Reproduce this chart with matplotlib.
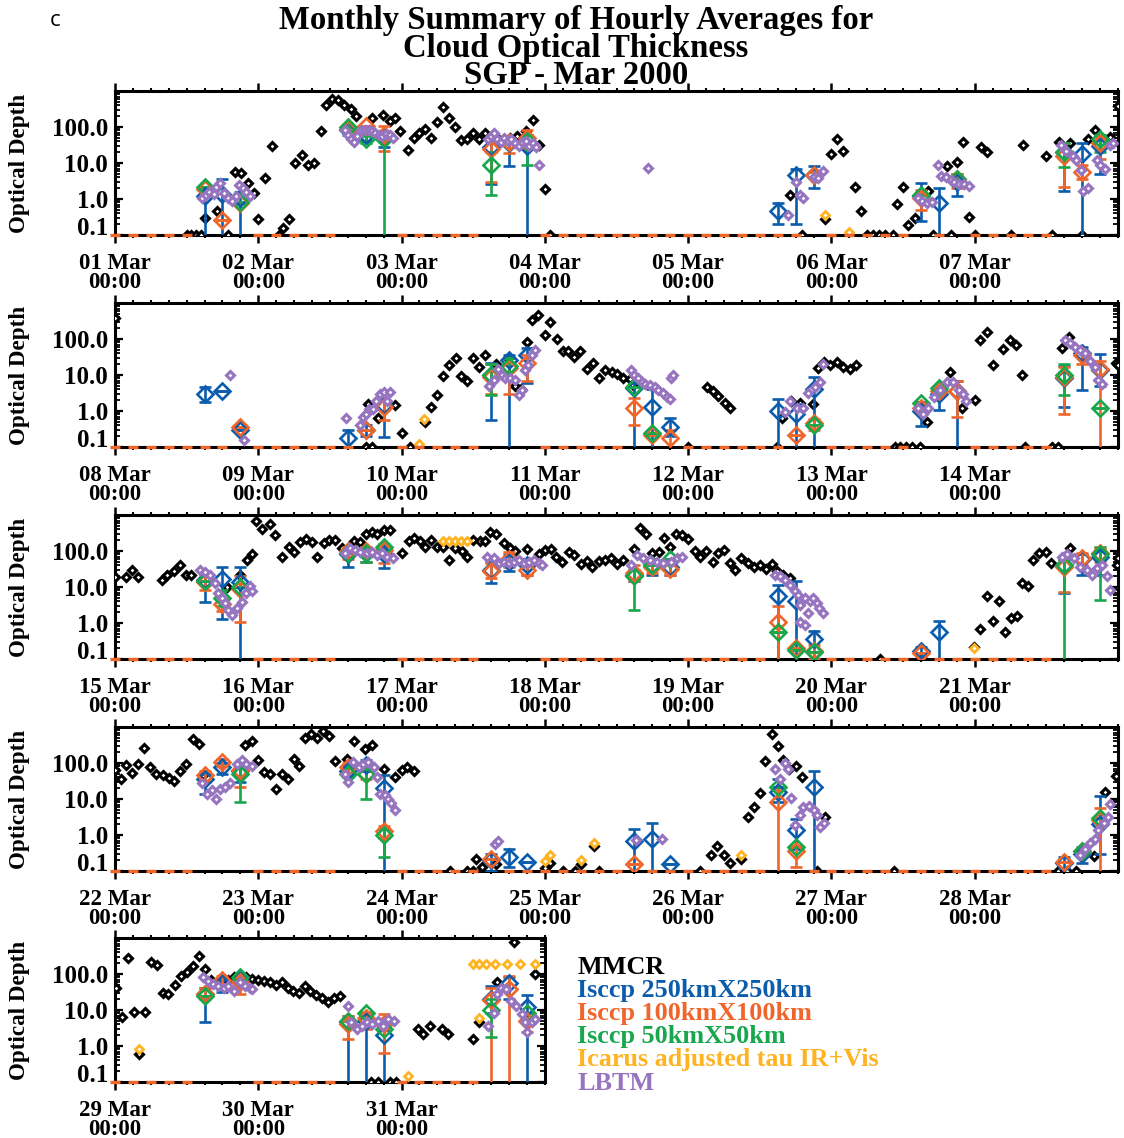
import numpy as np
import matplotlib
matplotlib.use("Agg")
import matplotlib.pyplot as plt
from matplotlib.ticker import FixedLocator, MultipleLocator, LogLocator, NullFormatter

plt.rcParams['font.family'] = ['Liberation Serif', 'DejaVu Serif']
plt.rcParams['font.weight'] = 'bold'

BLUE = '#0b5cad'
ORANGE = '#f0652a'
GREEN = '#17a74c'
YELLOW = '#ffb320'
PURPLE = '#9674bf'

# hours since 2000-03-01 00:00, optical depth (0.1 = at the floor)
mmcr = [
    (12.0, 0.1), (12.8, 0.1), (13.6, 0.1), (14.4, 0.1), (15.1, 0.3), (17.1, 0.47), (19.0, 0.1), (20.1, 5.6),
    (21.1, 5.4), (22.3, 2.8), (23.3, 1.5), (24.0, 0.27), (25.1, 3.9), (26.3, 29), (27.4, 0.1), (28.2, 0.16),
    (29.2, 0.27), (30.2, 10), (31.4, 17), (32.4, 9), (33.3, 10), (34.5, 75), (35.3, 400), (36.3, 600),
    (37.3, 550), (38.4, 400), (39.5, 320), (40.4, 200), (43, 178), (44.9, 220), (46.1, 147), (46.9, 180),
    (47.7, 77), (49.1, 23), (50, 48), (51, 68), (51.9, 90), (53, 48), (53.9, 140), (55, 370), (56, 175),
    (56.9, 98), (57.9, 44), (58.9, 47), (59.9, 70), (61, 46), (61.9, 68), (64, 50), (66.2, 50), (67.3, 55),
    (68.9, 77), (70, 156), (71, 31), (72, 1.9), (72.8, 0.1), (113, 1.3), (115, 0.1), (118.9, 0.28), (120, 18),
    (121, 47), (122, 22), (123, 0.1), (123.9, 2.2), (125, 0.45), (126, 0.1), (127, 0.1), (128, 0.1), (129, 0.1),
    (130.3, 0.1), (131, 0.72), (132, 2.2), (132.8, 0.19), (134, 0.3), (136.2, 1.7), (137, 0.1), (139.3, 8),
    (140, 0.1), (141, 11), (142, 38), (143, 0.32), (144, 0.1), (145, 28), (146, 20), (150, 0.1), (152.1, 31),
    (156, 16), (157, 0.1), (158.2, 38), (160, 36), (162, 0.1), (163, 45), (164.1, 81), (166.6, 52), (168, 380),
    (210, 0.1), (210.4, 1.6), (211, 0.1), (212.1, 0.63), (214.9, 1.5), (216, 0.25), (217.4, 0.1), (219, 0.1),
    (219.9, 0.5), (220.9, 1.26), (222, 2.8), (223, 9.3), (224, 19), (225.1, 29), (225.9, 9.3), (226.9, 7),
    (227.9, 29), (228.9, 17), (230, 36), (231.9, 20), (233.9, 29), (235, 4.9), (236, 4), (237, 85), (237.8, 340),
    (238.9, 465), (240, 130), (240.9, 300), (242, 98), (243, 45), (243.9, 45), (244.8, 32), (245.9, 45),
    (247, 14.5), (248, 21), (249, 8), (250, 14), (251.2, 12), (252, 10.5), (253.1, 8.5), (254.2, 7.5),
    (254.8, 5.2), (264, 0.1), (267.1, 4.6), (268.2, 3.5), (269, 2.6), (270.1, 1.7), (271, 1.2), (278.8, 0.1),
    (279.8, 0.63), (281.3, 1.9), (282.7, 1.7), (284.9, 1.6), (285.8, 15.5), (286.7, 23), (287.7, 19),
    (288.9, 23), (290, 17), (291.1, 15), (292.1, 19), (298.6, 0.1), (299.5, 0.1), (300.5, 0.1), (301.5, 0.1),
    (302.8, 0.1), (304, 0.5), (307.9, 12.3), (309.8, 1.2), (312, 2), (312.9, 93), (314, 160), (315, 19),
    (316.8, 52), (317.9, 91), (318.9, 70), (320, 10), (320.5, 0.1), (325, 0.1), (326, 0.1), (326.6, 56),
    (327.8, 115), (335.7, 22),
    (336, 19.5), (337.8, 19.5), (338.8, 30), (339.9, 19.5), (343.8, 16), (344.7, 22), (345.8, 27), (346.9, 41),
    (347.9, 22), (348.8, 22), (354.7, 10), (356.9, 22), (358.1, 56), (358.9, 81), (359.7, 670), (360.7, 420),
    (361.9, 550), (362.8, 280), (363.9, 66), (365.1, 130), (365.9, 91), (367, 180), (368, 210), (369, 174),
    (369.9, 66), (371, 163), (371.9, 200), (372.9, 200), (374, 118), (376, 190), (377, 180), (378, 305),
    (379, 340), (379.9, 305), (381, 380), (382.1, 380), (384, 86), (385.2, 190), (386, 225), (387.1, 190),
    (388, 130), (388.9, 200), (389.9, 130), (391, 130), (392, 56), (393, 118), (394.1, 100), (395, 66),
    (396, 200), (397.1, 190), (398, 190), (398.8, 330), (399.8, 305), (401.1, 163), (402.2, 118), (403, 100),
    (405, 113), (407.1, 81), (408.1, 106), (409, 113), (409.9, 70), (410.9, 50), (412, 96), (412.8, 78),
    (414, 43), (415, 53), (415.9, 37), (417, 53), (418.1, 56), (419, 63), (420.1, 43), (421.1, 56), (422.9, 114),
    (423.9, 440), (424.9, 305), (426, 86), (427.1, 92), (427.9, 233), (428.9, 131), (429.9, 290), (431, 280),
    (432, 215), (433.1, 100), (434, 70), (435, 100), (436.1, 51), (437, 86), (438, 106), (439, 46), (439.8, 30),
    (440.9, 65), (442.1, 46), (443, 37), (444, 41), (445.1, 32), (446, 43), (446.9, 28), (447.9, 22),
    (449, 17.5), (464.1, 0.1), (479.8, 0.21), (480.9, 0.66), (482, 5.8), (483, 1.15), (484, 4.2), (485.1, 0.55),
    (486, 1.38), (487.1, 1.6), (487.9, 13), (489, 11), (489.8, 56), (490.8, 86), (491.9, 91), (492.8, 46),
    (496, 118), (503.8, 41),
    (504, 63), (505, 35), (505.9, 86), (506.9, 53), (507.9, 92), (508.9, 265), (509.9, 78), (510.9, 49),
    (512, 46), (513, 39), (513.9, 32), (514.9, 60), (515.9, 96), (517, 470), (518, 330), (518.8, 46),
    (525.8, 310), (526.9, 400), (528, 118), (529, 56), (530, 51), (531, 19.5), (531.9, 51), (533, 35),
    (533.9, 132), (534.9, 81), (535.8, 500), (536.9, 650), (537.9, 500), (538.9, 760), (539.9, 550),
    (540.9, 114), (542.8, 132), (544, 420), (545.9, 250), (547, 310), (549, 70), (550.9, 41), (552, 63),
    (552.9, 78), (554, 60), (560.1, 0.1), (563, 0.1), (564, 0.1), (564.4, 0.21), (565.5, 0.13), (567.8, 0.16),
    (576.1, 0.12), (576.9, 0.17), (579, 0.1), (581, 0.1), (582, 0.16), (584.2, 0.5), (585, 0.1), (602, 0.1),
    (603.9, 0.28), (604.9, 0.48), (606, 0.28), (607, 0.17), (608.9, 0.22), (610.1, 3.1), (611, 6), (612, 15),
    (612.8, 114), (614, 620), (615.1, 290), (615.9, 118), (616.9, 70), (618, 81), (619, 41), (621.5, 0.1),
    (622.9, 3.1), (634.4, 0.1), (662, 0.1), (663.5, 0.1), (665, 0.1), (667.9, 0.26), (669.8, 16), (671.7, 43),
    (672.1, 42), (673.1, 6.2), (674.1, 275), (675.1, 9), (676.1, 0.59), (677, 9), (678, 220), (679, 180),
    (680.1, 30), (680.9, 28), (682, 49), (683, 90), (684, 112), (685, 170), (686, 325), (687, 138), (688, 70),
    (689, 55), (690, 60), (691, 70), (692, 80), (693.1, 76), (694, 81), (695, 72), (696, 69), (696.9, 65),
    (697.9, 59), (698.9, 49), (699.9, 59), (700.9, 42), (701.8, 34), (702.8, 30), (703.8, 45), (704.7, 34),
    (705.7, 26), (706.7, 21), (707.7, 17), (708.7, 21), (709.7, 24), (714.8, 0.1), (716, 0.1), (718, 0.1),
    (719, 0.1), (722.8, 3), (723.6, 2.1), (724.8, 3.5), (726.8, 3), (727.8, 2.1), (731.9, 1.6), (732.9, 4.5),
    (736, 59), (738.9, 760), (742.4, 100),
]

icarus = [
    (118.9, 0.35), (123, 0.12), (219, 0.12), (219.7, 0.6), (391, 190), (392, 190), (393, 190), (394, 190),
    (395, 190), (479.8, 0.2), (576.1, 0.19), (576.9, 0.28), (582, 0.2), (584.2, 0.6), (608.9, 0.28),
    (676.1, 0.8), (721, 0.15), (731.9, 190), (732.9, 6), (733, 190), (734.2, 190), (735.7, 190), (737.7, 190),
    (739.8, 190), (742.4, 190),
]

# hour, tau, lower, upper (0.05 = bar runs off the bottom)
isccp250 = [
    (15, 1.2, 0.05, 1.6), (18, 1.4, 0.05, 3.5), (21, 1.1, 0.05, 1.6), (39, 80, 60, 110), (42, 60, 40, 80),
    (45, 50, 28, 70), (63, 28, 2.6, 45), (66, 35, 8, 50), (69, 30, 0.05, 60), (111, 0.45, 0.2, 0.76),
    (114, 4.5, 0.2, 7), (117, 4.5, 2, 8), (135, 1.2, 0.25, 2.8), (138, 0.75, 0.05, 2), (141, 3, 1.2, 5),
    (159, 20, 1.7, 35), (162, 18, 0.05, 36), (165, 30, 5, 60),
    (183, 3, 1.8, 4.5), (186, 3.5, 3.5, 3.5), (189, 0.3, 0.3, 0.3), (207, 0.18, 0.05, 0.3), (210, 0.3, 0.2, 0.4),
    (213, 1.5, 0.19, 2), (231, 10, 0.55, 22), (234, 26, 0.05, 36), (237, 36, 6, 55), (255, 4.3, 0.05, 6),
    (258, 1.3, 0.05, 4), (261, 0.37, 0.2, 0.62), (279, 1.0, 0.05, 2.2), (282, 0.8, 0.05, 1.6),
    (285, 4, 0.05, 9), (303, 1.0, 0.38, 1.8), (306, 2.9, 1.1, 4.5), (309, 3.5, 0.05, 7), (327, 8, 1.26, 18),
    (330, 40, 3.8, 60), (333, 14, 5, 38),
    (351, 16, 3.8, 25), (354, 17, 1.3, 37), (357, 14, 0.05, 35), (375, 80, 37, 100), (378, 90, 50, 120),
    (381, 80, 33, 110), (399, 30, 13, 50), (402, 50, 27, 80), (405, 40, 22, 60), (423, 22, 15, 30),
    (426, 40, 21, 60), (429, 35, 21, 60), (447, 5.5, 0.05, 11.5), (450, 4, 0.05, 15), (453, 0.35, 0.05, 0.6),
    (471, 0.17, 0.12, 0.22), (474, 0.57, 0.05, 1.15), (495, 40, 7, 60), (498, 60, 22, 80), (501, 70, 21, 110),
    (519, 37, 14, 50), (522, 78, 50, 100), (525, 60, 30, 100), (543, 60, 40, 90), (546, 90, 60, 120),
    (549, 20, 0.05, 46), (567, 0.2, 0.1, 0.3), (570, 0.25, 0.13, 0.4), (573, 0.18, 0.18, 0.18),
    (591, 0.7, 0.05, 1.45), (594, 0.75, 0.05, 2.1), (597, 0.16, 0.16, 0.16), (615, 16, 8, 35),
    (618, 1.4, 0.4, 2.7), (621, 22, 0.05, 60), (663, 0.17, 0.12, 0.24), (666, 0.3, 0.17, 0.45),
    (669, 2, 0.3, 12),
    (687, 28, 4.7, 40), (690, 55, 32, 70), (693, 70, 40, 90), (711, 4.5, 0.05, 7), (714, 5, 0.05, 8),
    (717, 2, 0.05, 4), (735, 20, 8, 47), (738, 55, 20, 80), (741, 12, 0.05, 26),
]

isccp100 = [
    (15, 1.9, 1.9, 1.9), (18, 0.26, 0.26, 0.26), (21, 0.75, 0.75, 0.75), (39, 90, 90, 90), (42, 110, 110, 110),
    (45, 60, 21, 110), (63, 25, 3, 45), (66, 38, 19, 50), (69, 50, 25, 80), (117, 4.5, 4, 5.5),
    (135, 1.1, 0.5, 1.8), (141, 3.5, 2, 5), (159, 16, 2.2, 35), (162, 5.6, 3.5, 9), (165, 35, 13, 55),
    (189, 0.35, 0.35, 0.35), (210, 0.3, 0.3, 0.3), (213, 1.3, 0.55, 2), (231, 9, 3, 20), (234, 16, 3, 30),
    (237, 22, 7, 35), (255, 1.2, 0.4, 2.3), (258, 0.22, 0.22, 0.22), (261, 0.18, 0.05, 0.3),
    (282, 0.22, 0.22, 0.22), (285, 0.45, 0.3, 0.6), (303, 1.2, 1.2, 1.2), (306, 3.6, 3.6, 3.6),
    (309, 3.5, 0.7, 7), (327, 9, 0.83, 17), (330, 35, 20, 50), (333, 15, 0.05, 25),
    (351, 14, 8, 22), (354, 3.4, 2.2, 5), (357, 9, 1.1, 20), (375, 100, 60, 130), (378, 100, 50, 130),
    (381, 110, 45, 140), (399, 28, 18, 45), (402, 60, 35, 92), (405, 30, 22, 45), (423, 24, 15, 40),
    (426, 37, 25, 55), (429, 32, 22, 50), (447, 1.1, 0.05, 2.9), (450, 0.2, 0.2, 0.2), (453, 0.17, 0.1, 0.25),
    (471, 0.15, 0.15, 0.15), (495, 37, 7.3, 60), (498, 65, 40, 90), (501, 86, 50, 118),
    (519, 46, 30, 60), (522, 110, 80, 130), (525, 65, 22, 100), (543, 78, 50, 100), (546, 50, 35, 80),
    (549, 1.3, 0.8, 1.8), (567, 0.22, 0.22, 0.22), (591, 0.16, 0.16, 0.16), (615, 8.3, 0.05, 18),
    (618, 0.35, 0.13, 0.5), (663, 0.18, 0.18, 0.18), (666, 0.35, 0.35, 0.35), (669, 2.6, 0.05, 5.5),
    (687, 28, 20, 40), (690, 70, 45, 90), (693, 60, 28, 80), (711, 4, 1.6, 7), (714, 6, 3, 9),
    (717, 4, 0.63, 7.6), (735, 19, 0.05, 42), (738, 38, 0.05, 90), (741, 5, 2.4, 8),
]

isccp50 = [
    (15, 2.1, 2.1, 2.1), (21, 0.8, 0.8, 0.8), (39, 100, 100, 100), (42, 45, 35, 55), (45, 45, 0.05, 70),
    (63, 9, 1.3, 20), (69, 40, 9, 60), (135, 1.3, 1.3, 1.3), (141, 3.5, 3.5, 3.5), (159, 20, 7.6, 35),
    (165, 45, 20, 60),
    (231, 10, 2.8, 20), (234, 18, 8, 30), (255, 4.5, 4.5, 4.5), (258, 0.25, 0.25, 0.25), (285, 0.4, 0.4, 0.4),
    (303, 1.7, 1.7, 1.7), (306, 4.3, 4.3, 4.3), (327, 10, 2.8, 20), (333, 1.2, 1.2, 1.2),
    (351, 15, 15, 15), (354, 5, 3, 8), (357, 10, 10, 10), (375, 90, 90, 90), (378, 90, 48, 120),
    (381, 130, 70, 160), (423, 20, 2.3, 30), (426, 40, 40, 40), (429, 60, 60, 60), (447, 0.55, 0.55, 0.55),
    (450, 0.18, 0.18, 0.18), (453, 0.16, 0.16, 0.16), (495, 40, 0.05, 60), (501, 80, 4.4, 130),
    (525, 50, 8.3, 80), (543, 50, 50, 50), (546, 50, 10, 80), (549, 1.0, 0.24, 1.5), (615, 22, 22, 22),
    (618, 0.45, 0.45, 0.45), (666, 0.35, 0.35, 0.35), (669, 3, 3, 3),
    (687, 25, 25, 25), (693, 85, 85, 85), (711, 5, 5, 5), (714, 8, 8, 8), (717, 3, 3, 3), (735, 10, 1.8, 20),
    (741, 8, 8, 8),
]

lbtm = [
    (14.5, 1.1), (15.2, 1.3), (15.8, 1.6), (16.5, 1.4), (17, 2.2), (17.6, 2.8), (18.3, 1.5), (19, 1.1),
    (19.6, 0.9), (20.2, 1.2), (20.8, 2.5), (21.4, 2.0), (22, 1.6), (22.6, 1.2), (38.5, 80), (39, 60),
    (39.5, 45), (40, 38), (40.6, 55), (41.2, 80), (41.8, 85), (42.5, 80), (43, 75), (43.6, 70), (44.2, 60),
    (44.8, 55), (45.4, 65), (46, 60), (46.6, 50), (62.5, 45), (63, 55), (63.5, 70), (64, 45), (64.6, 38),
    (65.2, 50), (65.8, 40), (66.4, 45), (67, 35), (67.6, 30), (68.2, 38), (68.8, 40), (69.4, 30), (70, 35),
    (70.6, 28), (71, 9), (89.2, 7.4), (112.8, 0.36), (114.1, 2.9), (114.7, 1.3), (115.3, 1.1), (117, 4),
    (117.8, 3.8), (118.6, 6), (134.5, 1.1), (135.2, 0.9), (136, 0.75), (136.8, 0.8), (137.9, 9), (138.4, 4.3),
    (139.2, 4), (140, 3.3), (140.6, 3), (141.4, 2.6), (142.2, 2.6), (143, 2.3), (158.5, 31), (159.3, 22),
    (160.4, 16), (161, 12), (161.8, 6.3), (162.2, 1.7), (163, 2), (164.4, 12), (165, 9), (165.8, 7),
    (166.6, 31), (167.2, 35),
    (187.3, 10), (189.6, 0.16), (206.7, 0.63), (209, 0.4), (209.5, 0.7), (210.1, 0.85), (210.6, 1.15),
    (211.2, 1.15), (211.8, 1.9), (212.4, 3), (213, 3.4), (213.5, 1.9), (214.1, 3.4), (230.7, 4.8), (231.4, 7.2),
    (232.2, 15), (232.8, 9.7), (233.4, 8), (234.2, 8), (235, 7.2), (235.6, 2.8), (236.1, 3.8), (236.7, 13.6),
    (237.2, 19), (237.8, 36), (238.4, 50), (254.5, 13.8), (255, 10), (255.6, 8.5), (256.2, 6.4), (256.7, 5.8),
    (257.6, 5.2), (258.4, 4.5), (259, 3.8), (259.8, 3.1), (260.4, 2.5), (260.9, 2.2), (261.2, 8), (261.5, 10),
    (280.2, 0.96), (281, 1.9), (282.2, 1.2), (283.3, 1.2), (284.1, 3.1), (285.2, 4.5), (286.1, 6.4),
    (286.6, 20), (302.5, 1.2), (303.4, 0.8), (304.2, 1.2), (305.1, 2.5), (306.2, 3.8), (307.3, 6.4),
    (308.4, 6.4), (309.3, 3.8), (310.1, 2.9), (310.6, 1.9), (327.1, 93), (327.9, 76), (328.8, 60),
    (329.6, 50), (330.5, 40), (331.3, 25), (332.1, 17), (332.7, 7.2), (333.3, 5.8),
    (350.2, 30), (351, 26), (351.9, 22), (352.8, 12.8), (353.3, 6.8), (353.9, 5), (354.4, 3.6), (355, 2.3),
    (355.6, 1.7), (356.4, 2.6), (357.2, 3.8), (358, 6.8), (358.6, 11), (358.9, 7.6), (374.5, 86), (375.4, 118),
    (376.2, 106), (377.1, 96), (378.2, 86), (379.1, 96), (379.9, 78), (380.7, 86), (381.5, 70), (382.6, 63),
    (398.3, 70), (399.4, 63), (400.3, 46), (401.1, 51), (402, 46), (402.8, 51), (403.7, 56), (404.5, 46),
    (405.4, 51), (406.2, 56), (407, 46), (407.5, 41), (422.5, 41), (423.4, 78), (424.5, 65), (425.6, 56),
    (426.7, 51), (427.8, 46), (429.2, 51), (430.1, 63), (430.9, 70), (446.5, 22), (447.4, 20), (448.2, 16),
    (449, 11.5), (449.9, 7.8), (450.4, 6), (450.7, 3.2), (451.5, 5), (452.4, 4), (452.9, 5), (453.5, 3.6),
    (454, 2.6), (454.6, 1.9), (450.7, 1.1), (451.5, 0.9), (452, 1.9), (494.6, 70), (495.5, 81), (496.6, 63),
    (497.6, 37), (498.8, 30), (499.6, 22), (500.5, 33), (501.3, 41), (502.1, 20), (502.7, 8.3),
    (518.5, 27), (519.4, 14), (520.2, 17.5), (521, 9.7), (521.6, 19.5), (522.4, 22), (523.3, 27), (524.4, 96),
    (525.2, 118), (526, 96), (526.9, 81), (542.5, 51), (543.1, 30), (543.9, 106), (544.8, 78), (545.6, 92),
    (546.4, 106), (547.3, 78), (547.9, 41), (548.4, 14), (549.2, 12.8), (549.8, 10), (550.3, 7.8), (550.9, 5),
    (567.7, 0.57), (568.2, 0.66), (591.2, 0.72), (595.7, 0.75), (614.5, 70), (615.4, 35), (616.2, 100),
    (616.8, 70), (617.2, 11), (617.9, 1.9), (618.8, 3.6), (619.3, 6), (620.2, 6.2), (621, 5), (621.6, 3.6),
    (622.1, 1.7), (622.7, 2.1), (665.6, 0.28), (666.4, 0.4), (667.3, 0.6), (668.1, 0.78), (668.7, 1.4),
    (669.6, 2.1), (670.4, 3.2), (670.7, 7.2),
    (686.7, 81), (687.6, 65), (688.4, 53), (689.3, 47), (690.2, 42), (691, 47), (692, 34), (692.9, 59),
    (693.8, 47), (694.6, 42), (694.9, 38), (711, 13), (711.6, 4.5), (712.5, 3), (713.4, 3.6), (714.2, 4.5),
    (715.1, 4), (716, 5), (716.9, 3.6), (717.8, 5.6), (718.7, 5), (734.5, 3.6), (735.4, 8.5), (736, 28),
    (736.6, 42), (737.5, 38), (738.3, 18), (739.2, 13), (740.1, 7.7), (740.7, 4.5), (741, 2.4), (741.8, 4.5),
    (742.4, 5.6),
]

floor_tau = 0.1
week_start_day = [0, 7, 14, 21, 28]
week_days = [7, 7, 7, 7, 3]
day_names = ['%02d Mar' % d for d in range(1, 32)]
ytick_vals = [0.1, 1, 10, 100]
ytick_text = ['0.1', '1.0', '10.0', '100.0']
legend_names = ['MMCR', 'Isccp 250kmX250km', 'Isccp 100kmX100km', 'Isccp 50kmX50km',
                'Icarus adjusted tau IR+Vis', 'LBTM']
legend_colors = ['black', BLUE, ORANGE, GREEN, YELLOW, PURPLE]

W, H = 1124, 1138
fig = plt.figure(figsize=(W / 100, H / 100), dpi=100)

panel_top = [91, 303, 515, 727, 938]
panel_h = 144
left_px, day_px = 115, 1003 / 7


def pick(rows, h0, h1):
    a = np.array(rows, dtype=float)
    return a[(a[:, 0] >= h0) & (a[:, 0] <= h1)]


def isccp(ax, rows, h0, h1, color):
    a = pick(rows, h0, h1)
    if len(a) == 0:
        return
    yerr = [a[:, 1] - a[:, 2], a[:, 3] - a[:, 1]]
    ax.errorbar(a[:, 0], a[:, 1], yerr=yerr, fmt='D', ms=7.8, mfc='none', mec=color, mew=1.9,
                ecolor=color, elinewidth=1.9, capsize=4.6, capthick=1.9, zorder=4)


for p in range(5):
    h0 = week_start_day[p] * 24
    h1 = h0 + week_days[p] * 24
    x0 = left_px / W
    w = week_days[p] * day_px / W
    y0 = 1 - (panel_top[p] + panel_h) / H
    ax = fig.add_axes([x0, y0, w, panel_h / H])
    ax.set_yscale('log')
    ax.set_xlim(h0, h1)
    ax.set_ylim(floor_tau, 1000)

    # orange placeholder dashes where the 100 km product is missing
    have = set(int(r[0]) for r in isccp100)
    slots = [s for s in range(h0, h1, 3) if s not in have]
    ax.plot(slots, [floor_tau] * len(slots), ls='none', marker='_', ms=7.5, mew=2.4,
            color=ORANGE, clip_on=False, zorder=6)

    m = pick(mmcr, h0, h1)
    ax.plot(m[:, 0], m[:, 1], ls='none', marker='D', ms=4.0, mfc='white', mec='black', mew=2.2, zorder=3)
    ic = pick(icarus, h0, h1)
    if len(ic):
        ax.plot(ic[:, 0], ic[:, 1], ls='none', marker='D', ms=3.6, mfc='white', mec=YELLOW, mew=2.0, zorder=3)
    isccp(ax, isccp250, h0, h1, BLUE)
    isccp(ax, isccp100, h0, h1, ORANGE)
    isccp(ax, isccp50, h0, h1, GREEN)
    lb = pick(lbtm, h0, h1)
    ax.plot(lb[:, 0], lb[:, 1], ls='none', marker='D', ms=4.0, mfc='white', mec=PURPLE, mew=2.2, zorder=5)

    for s in ax.spines.values():
        s.set_linewidth(2.2)
    ax.xaxis.set_minor_locator(MultipleLocator(3))
    ticks = np.arange(h0, h1, 24)
    ax.set_xticks(ticks)
    ax.set_xticklabels([day_names[int(t // 24)] + '\n00:00' for t in ticks], fontsize=16.5,
                       fontweight='bold', linespacing=0.88)
    ax.tick_params(axis='x', which='major', direction='out', length=6, width=1.8, top=True, pad=7)
    ax.tick_params(axis='x', which='minor', direction='out', length=2.5, width=1.5, top=True)
    ax.yaxis.set_major_locator(FixedLocator(ytick_vals))
    ax.yaxis.set_minor_locator(LogLocator(subs=np.arange(2, 10)))
    ax.yaxis.set_minor_formatter(NullFormatter())
    ax.set_yticklabels([''] + ytick_text[1:], fontsize=18, fontweight='bold')
    ax.tick_params(axis='y', which='major', direction='in', length=6, width=1.6, right=True, pad=5)
    ax.tick_params(axis='y', which='minor', direction='in', length=3.5, width=1.3, right=True)
    # the lowest label sits a little above its tick
    ax.annotate(ytick_text[0], xy=(0, ytick_vals[0]), xycoords=('axes fraction', 'data'),
                xytext=(-5, 5), textcoords='offset points', ha='right', va='center',
                fontsize=18, fontweight='bold')
    fig.text(20 / W, y0 + panel_h / H / 2, 'Optical Depth', rotation=90, ha='center', va='center',
             fontsize=16.6, fontweight='bold')

fig.text(55 / W, 1 - 20 / H, 'c', family=['Open Sans', 'DejaVu Sans'], fontweight='normal',
         fontsize=16, ha='center', va='center')
fig.text(576 / W, 1 - 48 / H, 'Monthly Summary of Hourly Averages for\nCloud Optical Thickness\nSGP - Mar 2000',
         ha='center', va='center', fontsize=23.6, fontweight='bold', linespacing=0.86)

for i, (name, col) in enumerate(zip(legend_names, legend_colors)):
    fig.text(577 / W, 1 - (967 + i * 23.2) / H, name, color=col, ha='left', va='center',
             fontsize=18.8, fontweight='bold')

fig.savefig('out.png', dpi=100)
